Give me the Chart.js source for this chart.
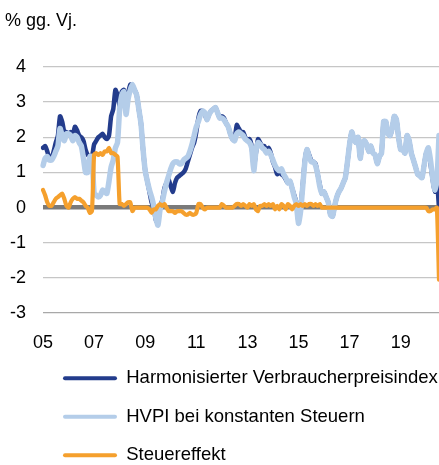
<!DOCTYPE html>
<html>
<head>
<meta charset="utf-8">
<script src="https://cdn.jsdelivr.net/npm/chart.js@4"></script>
<style>
  html, body { margin: 0; padding: 0; background: #fff; }
</style>
</head>
<body>
<canvas id="grafik" width="439" height="465"></canvas>
<script>
// Monatswerte Jan 2005 bis Jul 2020, Veraenderung gg. Vorjahr in %
const hvpi = [
  1.7, 1.75, 1.6, 1.4, 1.4, 1.6, 1.85, 2.05, 2.6, 2.45, 2.15, 2.15,      // 2005
  2.1, 2.15, 2.05, 2.3, 2.2, 2.05, 2.0, 1.9, 1.65, 1.5, 1.45, 1.45,      // 2006
  1.8, 1.9, 2.0, 2.05, 2.1, 2.0, 1.95, 2.05, 2.6, 2.8, 3.35, 3.2,        // 2007
  2.9, 3.3, 3.35, 2.9, 3.25, 3.5, 3.4, 3.35, 3.2, 2.8, 2.4, 1.65,        // 2008
  1.05, 0.75, 0.45, 0.15, 0.0, -0.35, -0.45, 0.05, 0.2, 0.55, 0.7, 0.8,  // 2009
  0.6, 0.45, 0.7, 0.85, 0.9, 0.95, 1.0, 1.1, 1.3, 1.5, 1.7, 1.85,        // 2010
  2.15, 2.55, 2.75, 2.75, 2.65, 2.5, 2.65, 2.75, 2.8, 2.85, 2.7, 2.55,   // 2011
  2.6, 2.55, 2.4, 2.3, 2.1, 1.95, 1.95, 2.35, 2.25, 2.15, 2.15, 2.0,     // 2012
  1.9, 1.95, 1.75, 1.15, 1.55, 1.95, 1.85, 1.75, 1.75, 1.6, 1.7, 1.55,   // 2013
  1.3, 1.15, 0.95, 1.0, 0.95, 0.9, 0.8, 0.7, 0.75, 0.55, 0.35, 0.15,     // 2014
  -0.4, 0.0, 0.65, 1.35, 1.65, 1.5, 1.35, 1.3, 1.25, 0.95, 0.65, 0.4,    // 2015
  0.45, 0.3, 0.15, -0.2, -0.25, 0.05, 0.3, 0.45, 0.55, 0.7, 0.85, 1.3,   // 2016
  1.8, 2.15, 1.95, 1.85, 2.0, 1.4, 1.85, 1.9, 1.8, 1.6, 1.75, 1.55,      // 2017
  1.5, 1.25, 1.45, 1.55, 2.45, 2.45, 2.1, 2.05, 2.25, 2.6, 2.5, 2.0,     // 2018
  1.65, 1.65, 1.55, 2.05, 1.9, 1.55, 1.35, 1.15, 0.95, 0.9, 0.85, 1.2,   // 2019
  1.55, 1.6, 1.25, 0.8, 0.45, 0.75, 0.0                                  // 2020
];

const hvpiKonstSteuern = [
  1.2, 1.4, 1.45, 1.35, 1.35, 1.45, 1.6, 1.75, 2.25, 2.05, 1.9, 2.1,     // 2005
  2.1, 2.05, 1.9, 2.05, 2.0, 1.85, 1.75, 1.4, 1.0, 1.0, 1.45, 1.45,      // 2006
  0.4, 0.35, 0.3, 0.35, 0.5, 0.45, 0.4, 0.75, 1.15, 1.35, 1.7, 1.85,     // 2007
  2.8, 3.2, 3.3, 2.65, 3.1, 3.35, 3.5, 3.35, 3.2, 2.8, 2.4, 1.65,        // 2008
  1.05, 0.75, 0.5, 0.3, 0.05, -0.3, -0.5, -0.05, 0.15, 0.45, 0.7, 0.9,  // 2009
  1.1, 1.25, 1.3, 1.3, 1.25, 1.25, 1.35, 1.4, 1.45, 1.6, 1.8, 2.05,      // 2010
  2.3, 2.45, 2.65, 2.75, 2.7, 2.5, 2.65, 2.75, 2.8, 2.85, 2.7, 2.55,     // 2011
  2.55, 2.5, 2.4, 2.3, 2.1, 1.95, 1.9, 2.1, 2.15, 2.1, 2.05, 1.95,       // 2012
  1.9, 1.85, 1.7, 1.05, 1.6, 1.85, 1.8, 1.7, 1.65, 1.55, 1.6, 1.5,       // 2013
  1.35, 1.2, 1.1, 1.05, 1.1, 0.95, 0.85, 0.7, 0.75, 0.55, 0.3, 0.1,      // 2014
  -0.45, -0.1, 0.6, 1.3, 1.65, 1.45, 1.3, 1.3, 1.2, 0.95, 0.6, 0.4,     // 2015
  0.45, 0.3, 0.15, -0.2, -0.25, 0.05, 0.3, 0.45, 0.55, 0.7, 0.85, 1.3,   // 2016
  1.8, 2.15, 1.95, 1.85, 2.0, 1.4, 1.85, 1.9, 1.8, 1.6, 1.75, 1.55,      // 2017
  1.5, 1.25, 1.45, 1.55, 2.45, 2.45, 2.1, 2.05, 2.25, 2.6, 2.5, 2.0,     // 2018
  1.65, 1.65, 1.55, 2.05, 1.9, 1.55, 1.35, 1.15, 0.95, 0.9, 0.85, 1.2,   // 2019
  1.55, 1.7, 1.35, 0.85, 0.5, 0.75, 2.05                                 // 2020
];

const steuereffekt = [
  0.5, 0.35, 0.15, 0.05, 0.05, 0.15, 0.25, 0.3, 0.35, 0.4, 0.25, 0.05,   // 2005
  0.0, 0.15, 0.25, 0.3, 0.25, 0.25, 0.2, 0.15, 0.05, 0.0, -0.15, -0.1,   // 2006
  1.5, 1.55, 1.5, 1.55, 1.5, 1.6, 1.6, 1.7, 1.55, 1.55, 1.5, 1.45,       // 2007
  0.1, 0.1, 0.05, 0.1, 0.15, 0.15, -0.1, 0.0, 0.0, 0.0, 0.0, 0.0,        // 2008
  0.0, 0.0, -0.05, -0.15, -0.05, -0.05, 0.05, 0.1, 0.05, 0.1, 0.0, -0.1, // 2009
  -0.1, -0.1, -0.15, -0.1, -0.1, -0.1, -0.15, -0.2, -0.2, -0.15, -0.2, -0.2, // 2010
  -0.15, 0.1, 0.1, 0.0, -0.05, 0.0, 0.0, 0.0, 0.0, 0.0, 0.0, 0.0,        // 2011
  0.1, 0.05, 0.0, 0.0, 0.0, 0.0, 0.05, 0.1, 0.1, 0.05, 0.1, 0.05,        // 2012
  0.0, 0.1, 0.05, 0.1, -0.05, -0.1, 0.05, 0.05, 0.1, 0.05, 0.1, 0.05,    // 2013
  0.1, -0.05, 0.05, -0.05, 0.1, 0.05, -0.05, 0.1, 0.05, -0.05, 0.05, 0.1, // 2014
  0.05, 0.1, 0.05, 0.1, 0.05, 0.1, 0.1, 0.05, 0.1, 0.05, 0.1, 0.0,       // 2015
  0.0, 0.0, 0.0, 0.0, 0.0, 0.0, 0.0, 0.0, 0.0, 0.0, 0.0, 0.0,            // 2016
  0.0, 0.0, 0.0, 0.0, 0.0, 0.0, 0.0, 0.0, 0.0, 0.0, 0.0, 0.0,            // 2017
  0.0, 0.0, 0.0, 0.0, 0.0, 0.0, 0.0, 0.0, 0.0, 0.0, 0.0, 0.0,            // 2018
  0.0, 0.0, 0.0, 0.0, 0.0, 0.0, 0.0, 0.0, 0.0, 0.0, 0.0, 0.0,            // 2019
  0.0, -0.1, -0.1, -0.05, -0.05, 0.0, -2.05                              // 2020
];

const jahresLabels = ['05', '07', '09', '11', '13', '15', '17', '19'];

// Monatskategorien ab Januar 2005
const monate = [];
for (let i = 0; i < hvpi.length; i++) {
    const jahr = 2005 + Math.floor(i / 12);
    monate.push(jahr + '-' + String(i % 12 + 1).padStart(2, '0'));
}

Chart.defaults.font.family = '"Liberation Sans", Arial, sans-serif';
Chart.defaults.font.size = 18;
Chart.defaults.color = '#000';

const ctx = document.getElementById('grafik').getContext('2d');

new Chart(ctx, {
    type: 'line',
    data: {
        labels: monate,
        datasets: [
            {
                label: 'Harmonisierter Verbraucherpreisindex',
                data: hvpi,
                borderColor: '#233c8c',
                backgroundColor: '#233c8c',
                borderWidth: 4.5,
                order: 3
            },
            {
                label: 'HVPI bei konstanten Steuern',
                data: hvpiKonstSteuern,
                borderColor: '#b4cde9',
                backgroundColor: '#b4cde9',
                borderWidth: 5.5,
                order: 2
            },
            {
                label: 'Steuereffekt',
                data: steuereffekt,
                borderColor: '#f5a02d',
                backgroundColor: '#f5a02d',
                borderWidth: 4.2,
                order: 1
            }
        ]
    },
    options: {
        responsive: false,
        animation: false,
        devicePixelRatio: 1,
        layout: { padding: { left: 5, right: 0, top: 0, bottom: 0 } },
        elements: {
            point: { radius: 0 },
            line: { tension: 0.2, borderCapStyle: 'round', borderJoinStyle: 'round' }
        },
        scales: {
            x: {
                offset: false,
                grid: { display: false },
                border: { display: false },
                ticks: {
                    autoSkip: false,
                    maxRotation: 0,
                    padding: 11,
                    callback: (wert, i) => i % 24 === 0 ? jahresLabels[i / 24] : null
                },
                afterFit: achse => { achse.height = 36; }
            },
            y: {
                min: -3,
                max: 4,
                border: { display: false },
                ticks: { stepSize: 1, padding: 17 },
                grid: {
                    drawTicks: false,
                    color: c => c.tick.value === 0 ? '#7a7a7a' : (c.tick.value === -3 ? '#a8a8a8' : '#c6c6c6'),
                    lineWidth: c => c.tick.value === 0 ? 4.5 : 1.3
                },
                afterFit: achse => { achse.width = 38; }
            }
        },
        plugins: {
            title: {
                display: true,
                text: '% gg. Vj.',
                align: 'start',
                color: '#000',
                font: { size: 18, weight: 'normal' },
                padding: { top: 10, bottom: 35.4 }
            },
            legend: {
                position: 'bottom',
                align: 'start',
                fullSize: false,
                maxHeight: 116,
                labels: {
                    boxWidth: 54,
                    boxHeight: 4,
                    padding: 20,
                    color: '#000',
                    font: { size: 18.5 },
                    sort: (a, b) => a.datasetIndex - b.datasetIndex,
                    generateLabels: chart => {
                        const eintraege = Chart.defaults.plugins.legend.labels.generateLabels(chart);
                        eintraege.forEach(e => {
                            e.fillStyle = e.strokeStyle;
                            e.lineWidth = 0;
                            e.borderRadius = 2;
                        });
                        return eintraege;
                    }
                }
            },
            tooltip: { enabled: false }
        }
    }
});
</script>
</body>
</html>
